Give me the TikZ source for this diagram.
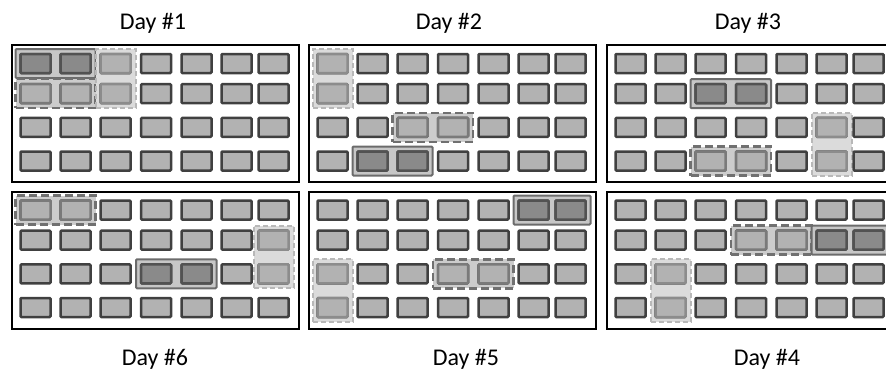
\documentclass[tikz,border=0pt]{standalone}
\usepackage{fontspec}
\setmainfont{Carlito}
\usetikzlibrary{fit,backgrounds}

\definecolor{cellfill}{gray}{0.70}
\definecolor{cellline}{gray}{0.25}
\definecolor{darkfill}{gray}{0.54}
\definecolor{darkline}{gray}{0.32}
\definecolor{darkgrpfill}{gray}{0.78}
\definecolor{darkgrpline}{gray}{0.42}
\definecolor{midline}{gray}{0.48}
\definecolor{midgrpfill}{gray}{0.80}
\definecolor{midgrpline}{gray}{0.44}
\definecolor{lightline}{gray}{0.55}
\definecolor{lightgrpfill}{gray}{0.86}
\definecolor{lightgrpline}{gray}{0.72}

\tikzset{
  panelbox/.style={draw=black, line width=2pt, minimum width=287.5pt, minimum height=137pt, inner sep=0pt, anchor=north west},
  cellbox/.style={draw=cellline, fill=cellfill, line width=2.5pt, rounded corners=1pt, minimum width=30pt, minimum height=19pt, inner sep=0pt},
  darkcell/.style={cellbox, draw=darkline, fill=darkfill},
  midcell/.style={cellbox, draw=midline},
  lightcell/.style={cellbox, draw=lightline},
  darkgrp/.style={draw=darkgrpline, fill=darkgrpfill, line width=2pt, rounded corners=1pt, inner sep=3.75pt},
  midgrp/.style={draw=midgrpline, fill=midgrpfill, line width=2.5pt, dash pattern=on 8pt off 4pt, inner sep=3.75pt},
  lightgrp/.style={draw=lightgrpline, fill=lightgrpfill, line width=2pt, dash pattern=on 5pt off 3pt, inner sep=3.75pt},
  daylabel/.style={anchor=base, font=\fontsize{24}{28}\selectfont}
}

% one day: frame and 4 x 7 cells
\newcommand{\daypanel}[3]{%
  \node[panelbox] (#1) at (#2,#3) {};
  \foreach \col/\cx in {1/25,2/65,3/105,4/145.5,5/186,6/226,7/263}
    \foreach \row/\ry in {1/19.5,2/49.7,3/83.3,4/117}
      \node[cellbox] (#1-\row-\col) at (#2+\cx,#3+\ry) {};
}

% two cells marked as a group
\newcommand{\pairmark}[4]{%
  \begin{pgfonlayer}{background}
    \node[#1, fit=(#3)(#4)] (#3-grp) {};
  \end{pgfonlayer}
  \node[#2] (#3-on) at (#3) {};
  \node[#2] (#4-on) at (#4) {};
}

\begin{document}
\begin{tikzpicture}[x=1pt, y=-1pt]
\useasboundingbox (0,0) rectangle (886,373);
\clip (0,0) rectangle (886,373);

\daypanel{d1}{10.5}{44}
\daypanel{d2}{307.5}{44}
\daypanel{d3}{605.5}{44}
\daypanel{d6}{10.5}{190.5}
\daypanel{d5}{307.5}{190.5}
\daypanel{d4}{605.5}{190.5}

% day 1
\pairmark{darkgrp}{darkcell}{d1-1-1}{d1-1-2}
\pairmark{midgrp}{midcell}{d1-2-1}{d1-2-2}
\pairmark{lightgrp}{lightcell}{d1-1-3}{d1-2-3}
% day 2
\pairmark{lightgrp}{lightcell}{d2-1-1}{d2-2-1}
\pairmark{midgrp}{midcell}{d2-3-3}{d2-3-4}
\pairmark{darkgrp}{darkcell}{d2-4-2}{d2-4-3}
% day 3
\pairmark{darkgrp}{darkcell}{d3-2-3}{d3-2-4}
\pairmark{lightgrp}{lightcell}{d3-3-6}{d3-4-6}
\pairmark{midgrp}{midcell}{d3-4-3}{d3-4-4}
% day 6
\pairmark{midgrp}{midcell}{d6-1-1}{d6-1-2}
\pairmark{lightgrp}{lightcell}{d6-2-7}{d6-3-7}
\pairmark{darkgrp}{darkcell}{d6-3-4}{d6-3-5}
% day 5
\pairmark{darkgrp}{darkcell}{d5-1-6}{d5-1-7}
\pairmark{lightgrp}{lightcell}{d5-3-1}{d5-4-1}
\pairmark{midgrp}{midcell}{d5-3-4}{d5-3-5}
% day 4
\pairmark{midgrp}{midcell}{d4-2-4}{d4-2-5}
\pairmark{darkgrp}{darkcell}{d4-2-6}{d4-2-7}
\pairmark{lightgrp}{lightcell}{d4-3-2}{d4-4-2}

\node[daylabel] (lab1) at (153,29.3) {Day \#1};
\node[daylabel] (lab2) at (449,29.3) {Day \#2};
\node[daylabel] (lab3) at (748,29.3) {Day \#3};
\node[daylabel] (lab6) at (155,365) {Day \#6};
\node[daylabel] (lab5) at (466,365) {Day \#5};
\node[daylabel] (lab4) at (767,365) {Day \#4};
\end{tikzpicture}
\end{document}
